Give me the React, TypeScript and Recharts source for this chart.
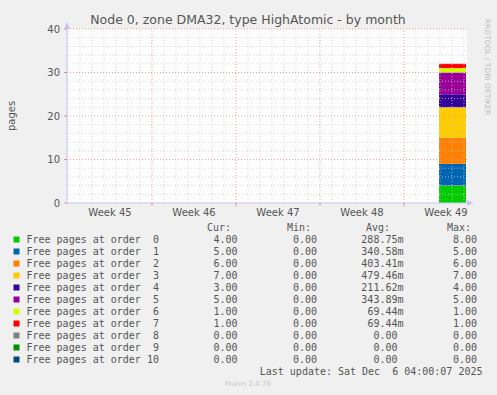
import React from 'react';
import { ComposedChart, Area, XAxis, YAxis, ReferenceLine, CartesianGrid } from 'recharts';

// time in hours since left edge of the month view
const times = [744, 798];
const order0 = [4, 4];
const order1 = [5, 5];
const order2 = [6, 6];
const order3 = [7, 7];
const order4 = [3, 3];
const order5 = [5, 5];
const order6 = [1, 1];
const order7 = [1, 1];
const order8 = [0, 0];
const order9 = [0, 0];
const order10 = [0, 0];

const seriesNames = [
  'Free pages at order  0',
  'Free pages at order  1',
  'Free pages at order  2',
  'Free pages at order  3',
  'Free pages at order  4',
  'Free pages at order  5',
  'Free pages at order  6',
  'Free pages at order  7',
  'Free pages at order  8',
  'Free pages at order  9',
  'Free pages at order 10',
];
const seriesColors = [
  '#00CC00', '#0066B3', '#FF8000', '#FFCC00', '#330099', '#990099',
  '#CCFF00', '#FF0000', '#808080', '#008F00', '#00487D',
];
const curVals = ['4.00', '5.00', '6.00', '7.00', '3.00', '5.00', '1.00', '1.00', '0.00', '0.00', '0.00'];
const minVals = ['0.00', '0.00', '0.00', '0.00', '0.00', '0.00', '0.00', '0.00', '0.00', '0.00', '0.00'];
const avgVals = ['288.75m', '340.58m', '403.41m', '479.46m', '211.62m', '343.89m', '69.44m', '69.44m', '0.00', '0.00', '0.00'];
const maxVals = ['8.00', '5.00', '6.00', '7.00', '4.00', '5.00', '1.00', '1.00', '0.00', '0.00', '0.00'];

const weekLabels = ['Week 45', 'Week 46', 'Week 47', 'Week 48', 'Week 49'];
const weekCenters = [86, 254, 422, 590, 758];
const weekMajors = [170, 338, 506, 674];
const yTicks = [0, 10, 20, 30, 40];

const allSeries = [order0, order1, order2, order3, order4, order5, order6, order7, order8, order9, order10];
const data = times.map((t, i) => {
  const row: Record<string, number> = { t };
  allSeries.forEach((s, k) => {
    row['o' + k] = s[i];
  });
  return row;
});

const dayMinors = Array.from({ length: 34 }, (_, k) => 2 + 24 * k).filter((v) => !weekMajors.includes(v));
const yMinors = Array.from({ length: 19 }, (_, k) => 2 + 2 * k).filter((v) => v % 10 !== 0);
const yMajors = [10, 20, 30];

const FONT = '"DejaVu Sans", sans-serif';
const MONO = '"DejaVu Sans Mono", monospace';
const TXT = '#555555';

const XTick = (props: any) => {
  const { x, y, payload } = props;
  const v = payload.value;
  const idx = weekCenters.indexOf(v);
  if (idx >= 0) {
    return (
      <text x={x} y={y} dy="0.71em" textAnchor="middle" fill={TXT} fontSize={10} fontFamily={FONT}>
        {weekLabels[idx]}
      </text>
    );
  }
  return <line x1={x} x2={x} y1={y - 6} y2={y - 3} stroke="#e09090" strokeWidth={1} />;
};

export default function App() {
  return (
    <div style={{ position: 'absolute', left: 0, top: 0, width: 497, height: 395, background: '#F0F0F0' }}>
      <ComposedChart width={497} height={395} data={data} margin={{ top: 29, right: 30, bottom: 172, left: 37 }}>
        <CartesianGrid fill="#FFFFFF" horizontal={false} vertical={false} />
        <XAxis
          type="number"
          dataKey="t"
          domain={[0, 800]}
          ticks={[...weekCenters, ...weekMajors]}
          interval={0}
          height={20}
          tickSize={2}
          tickMargin={4}
          tickLine={false}
          axisLine={{ stroke: '#C4C4F4' }}
          tick={<XTick />}
          allowDataOverflow
        />
        <YAxis
          type="number"
          domain={[0, 40]}
          ticks={yTicks}
          interval={0}
          width={30}
          tickSize={3}
          tickMargin={4}
          tickLine={{ stroke: '#e09090' }}
          axisLine={{ stroke: '#C4C4F4' }}
          tick={{ fill: TXT, fontSize: 10, fontFamily: FONT }}
        />
        {allSeries.map((_, k) => (
          <Area
            key={k}
            dataKey={'o' + k}
            stackId="s"
            type="linear"
            fill={seriesColors[k]}
            fillOpacity={1}
            stroke="none"
            isAnimationActive={false}
            dot={false}
            activeDot={false}
          />
        ))}
        {dayMinors.map((v) => (
          <ReferenceLine key={'dx' + v} x={v} stroke="#c8c8c8" strokeOpacity={0.8} strokeDasharray="1 2" />
        ))}
        {yMinors.map((v) => (
          <ReferenceLine key={'dy' + v} y={v} stroke="#c8c8c8" strokeOpacity={0.8} strokeDasharray="1 2" />
        ))}
        {weekMajors.map((v) => (
          <ReferenceLine key={'mx' + v} x={v} stroke="#e08a8a" strokeOpacity={0.8} strokeDasharray="1 2" />
        ))}
        {yMajors.map((v) => (
          <ReferenceLine key={'my' + v} y={v} stroke="#e08a8a" strokeOpacity={0.8} strokeDasharray="1 2" />
        ))}
        <ReferenceLine y={40} stroke="#e08a8a" strokeOpacity={0.8} strokeDasharray="1 2" />
      </ComposedChart>
      <svg
        width={497}
        height={395}
        style={{ position: 'absolute', left: 0, top: 0, pointerEvents: 'none' }}
      >
        <text x={248} y={24} textAnchor="middle" fill={TXT} fontSize={12.5} fontFamily={FONT}>
          Node 0, zone DMA32, type HighAtomic - by month
        </text>
        <text
          x={11}
          y={116}
          transform="rotate(-90 11 116)"
          textAnchor="middle"
          dominantBaseline="central"
          fill={TXT}
          fontSize={10}
          fontFamily={FONT}
        >
          pages
        </text>
        <text
          x={487}
          y={67}
          transform="rotate(90 487 67)"
          textAnchor="middle"
          dominantBaseline="central"
          fill="#c0c0c0"
          fontSize={7.5}
          fontFamily={FONT}
        >
          RRDTOOL / TOBI OETIKER
        </text>
        <polygon points="64,29 70,29 67,22" fill="#C4C4F4" />
        <polygon points="467,200 467,206 473,203" fill="#C4C4F4" />
        <g fontFamily={MONO} fontSize={10} fill={TXT}>
          <text x={231} y={231} textAnchor="end">Cur:</text>
          <text x={311} y={231} textAnchor="end">Min:</text>
          <text x={390} y={231} textAnchor="end">Avg:</text>
          <text x={471} y={231} textAnchor="end">Max:</text>
          {seriesNames.map((name, i) => {
            const by = 243 + 12 * i;
            const avg = avgVals[i];
            return (
              <g key={name}>
                <rect x={13.5} y={by - 6.5} width={6} height={6} fill={seriesColors[i]} />
                <text x={26.5} y={by} style={{ whiteSpace: 'pre' }}>{name}</text>
                <text x={237.5} y={by} textAnchor="end">{curVals[i]}</text>
                <text x={317} y={by} textAnchor="end">{minVals[i]}</text>
                <text x={avg.endsWith('m') ? 403.5 : 397.5} y={by} textAnchor="end">{avg}</text>
                <text x={477} y={by} textAnchor="end">{maxVals[i]}</text>
              </g>
            );
          })}
          <text x={482.5} y={375} textAnchor="end" style={{ whiteSpace: 'pre' }}>
            Last update: Sat Dec  6 04:00:07 2025
          </text>
        </g>
        <text x={248} y={386} textAnchor="middle" fill="#c8c8c8" fontSize={7} fontFamily={FONT}>
          Munin 2.0.76
        </text>
      </svg>
    </div>
  );
}
